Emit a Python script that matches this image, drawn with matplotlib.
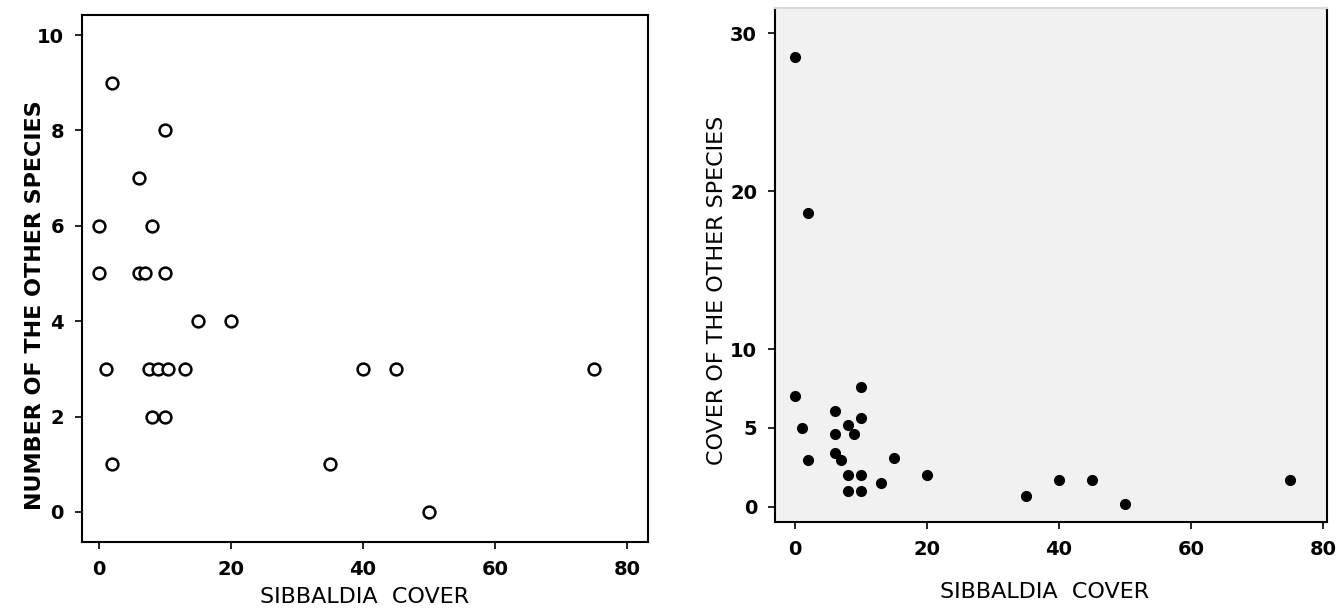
import matplotlib.pyplot as plt

plt.rcParams["font.family"] = ["DejaVu Sans"]

# left panel: number of other species vs Sibbaldia cover
sib_a = [2, 10, 6, 0, 8, 0, 6, 7, 10, 15, 20, 1, 7.5, 9, 10.5, 13, 40, 45, 75, 8, 10, 2, 35, 50]
n_species = [9, 8, 7, 6, 6, 5, 5, 5, 5, 4, 4, 3, 3, 3, 3, 3, 3, 3, 3, 2, 2, 1, 1, 0]

# right panel: cover of other species vs Sibbaldia cover
sib_b = [0, 2, 0, 10, 6, 10, 1, 8, 6, 9, 2, 6, 7, 15, 8, 10, 20, 13, 8, 10, 35, 40, 45, 50, 75]
cover_other = [28.5, 18.6, 7.0, 7.6, 6.1, 5.6, 5.0, 5.2, 4.6, 4.6, 3.0, 3.4, 3.0, 3.1,
               2.0, 2.0, 2.0, 1.5, 1.0, 1.0, 0.7, 1.7, 1.7, 0.2, 1.7]

x_ticks = [0, 20, 40, 60, 80]

fig = plt.figure(figsize=(13.41, 6.09), dpi=100)
ax1 = fig.add_axes([0.0611, 0.110, 0.4221, 0.8654])
ax2 = fig.add_axes([0.578, 0.143, 0.4116, 0.844])

ax1.plot(sib_a, n_species, 'o', markersize=8.5, markerfacecolor='white',
         markeredgecolor='black', markeredgewidth=1.8)
ax1.set_xlim(-2.6, 83.2)
ax1.set_ylim(-0.63, 10.42)
ax1.set_xticks(x_ticks)
ax1.set_yticks([0, 2, 4, 6, 8, 10])

ax2.set_facecolor('#f1f1f1')
ax2.plot(sib_b, cover_other, 'o', markersize=7, color='black')
ax2.set_xlim(-3, 80.6)
ax2.set_ylim(-0.95, 31.6)
ax2.set_xticks(x_ticks)
ax2.set_yticks([0, 5, 10, 20, 30])
ax2.spines['top'].set_color('#d8d8d8')

for ax in [ax1, ax2]:
    ax.tick_params(direction='out', length=5, width=1.2, labelsize=14, pad=8)
    for lab in ax.get_xticklabels() + ax.get_yticklabels():
        lab.set_fontweight('bold')
    for s in ax.spines.values():
        s.set_linewidth(1.5)

# axis titles placed by hand, as in the scanned figure
fig.text(0.272, 0.02, 'SIBBALDIA  COVER', fontsize=16, ha='center', va='center')
fig.text(0.026, 0.499, 'NUMBER OF THE OTHER SPECIES', fontsize=16, fontweight='bold',
         rotation=90, ha='center', va='center')
fig.text(0.779, 0.028, 'SIBBALDIA  COVER', fontsize=16, ha='center', va='center')
fig.text(0.535, 0.524, 'COVER OF THE OTHER SPECIES', fontsize=16,
         rotation=90, ha='center', va='center')

fig.savefig('out.png', dpi=100)
